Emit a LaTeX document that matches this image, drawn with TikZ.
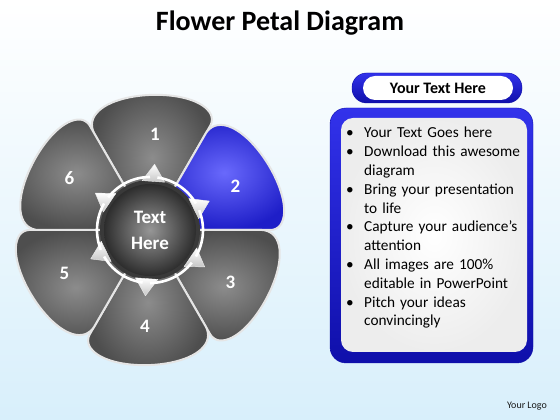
\documentclass[tikz,border=0pt]{standalone}
\usepackage{fontspec}
\setmainfont{Carlito}
\usetikzlibrary{positioning}
\definecolor{petalin}{RGB}{140,140,140}
\definecolor{petalout}{RGB}{78,78,78}
\definecolor{bluein}{RGB}{105,105,252}
\definecolor{blueout}{RGB}{30,30,200}
\definecolor{boxblue}{RGB}{50,50,235}
\definecolor{boxdark}{RGB}{15,15,170}
\definecolor{bgblue}{RGB}{216,239,251}
\tikzset{
  petal/.style={inner color=petalin, outer color=petalout, draw=gray!20, line width=2pt, rounded corners=6pt},
  petalhi/.style={petal, inner color=bluein, outer color=blueout},
  num/.style={text=white, font=\bfseries\fontsize{19}{19}\selectfont},
  pointer/.style={top color=white, bottom color=gray!45, draw=gray!15, line width=0.4pt},
  hub/.style={circle, minimum size=92pt, inner color={rgb,255:red,150;green,150;blue,150},
    outer color={rgb,255:red,45;green,45;blue,45}, text=white, align=center,
    font=\bfseries\fontsize{19}{26}\selectfont},
}
\newcommand{\pitem}[1]{\par\hangindent=18pt\hangafter=1\noindent\makebox[18pt][l]{\textbullet}#1\par}
\begin{document}
\begin{tikzpicture}[x=1pt,y=1pt,line join=round]
\useasboundingbox (0,0) rectangle (560,420);
\shade[top color=white, bottom color=bgblue] (0,0) rectangle (560,420);
\node[font=\bfseries\fontsize{28}{28}\selectfont] (title) at (280,397) {Flower Petal Diagram};
% petals
\coordinate (c) at (150,190);
\foreach \a/\n/\sty in {90/1/petal,30/2/petalhi,-30/3/petal,-90/4/petal,210/5/petal,150/6/petal}{
  \shadedraw[\sty] (c) -- ([shift={(\a-30:127)}]c)
    .. controls ([shift={(\a-18:152)}]c) and ([shift={(\a+20:150)}]c) .. ([shift={(\a+30:118)}]c) -- cycle;
  \node[num] (n\n) at ([shift={(\a-3:96)}]c) {\n};
}
\fill[gray!45!black] (c) circle (50);
\foreach \a in {90,30,-30,-90,210,150}
  \shadedraw[pointer] ([shift={(\a+9:50)}]c) -- ([shift={(\a-4:66)}]c) -- ([shift={(\a-17:50)}]c) -- cycle;
\foreach \a in {90,30,-30,-90,210,150}
  \draw[white, line width=2.6pt] ([shift={(\a:53)}]c) arc[start angle=\a, end angle=\a+52, radius=53];
\node[hub] (hub) at (c) {Text\\Here};
% text panel
\shadedraw[top color=boxblue, bottom color=boxdark, draw=boxdark, rounded corners=14.5pt] (352,317) rectangle (522,347);
\fill[white, rounded corners=12pt] (363,320) rectangle (513,344);
\node[font=\bfseries\fontsize{16}{16}\selectfont] (head) at (438,332) {Your Text Here};
\shadedraw[top color=boxblue, bottom color=boxdark, draw=boxdark, rounded corners=16pt] (330,57) rectangle (533,312);
\shade[inner color=white, outer color=gray!14, rounded corners=12pt] (341,68) rectangle (527,302);
\node[anchor=north west, inner sep=0pt, text width=185pt, font=\fontsize{15.3}{18.8}\selectfont] (list) at (346,301) {%
\pitem{Your Text Goes here}
\pitem{Download this awesome\newline diagram}
\pitem{Bring your presentation\newline to life}
\pitem{Capture your audience’s\newline attention}
\pitem{All images are 100\%\newline editable in PowerPoint}
\pitem{Pitch your ideas\newline convincingly}};
\node[font=\fontsize{10}{10}\selectfont, text=gray!20!black] (logo) at (527,14) {Your Logo};
\end{tikzpicture}
\end{document}
